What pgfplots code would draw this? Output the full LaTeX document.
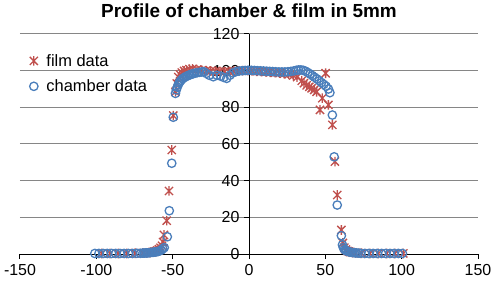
\documentclass[border=0pt]{standalone}
\usepackage{pgfplots}
\pgfplotsset{compat=1.18}
\usepackage{fontspec}
\setmainfont{Liberation Sans}
\definecolor{filmred}{HTML}{C0504D}
\definecolor{chamblue}{HTML}{4A7EBB}
\definecolor{gridgray}{HTML}{868686}
\pgfdeclareplotmark{xstar}{%
  \pgfpathmoveto{\pgfqpoint{0pt}{\pgfplotmarksize}}%
  \pgfpathlineto{\pgfqpoint{0pt}{-\pgfplotmarksize}}%
  \pgfpathmoveto{\pgfqpoint{0.85\pgfplotmarksize}{0.85\pgfplotmarksize}}%
  \pgfpathlineto{\pgfqpoint{-0.85\pgfplotmarksize}{-0.85\pgfplotmarksize}}%
  \pgfpathmoveto{\pgfqpoint{-0.85\pgfplotmarksize}{0.85\pgfplotmarksize}}%
  \pgfpathlineto{\pgfqpoint{0.85\pgfplotmarksize}{-0.85\pgfplotmarksize}}%
  \pgfusepathqstroke}
\pgfplotstableread{
x y
-96.5 0.3
-91 0.3
-85.6 0.3
-80.1 0.3
-74.6 0.4
-69.5 0.5
-67 0.6
-65 0.8
-63.5 1.0
-62 1.3
-61 1.6
-60 2.0
-59 2.6
-58 3.4
-57 4.5
-56.3 6.5
-55.7 10.4
-53.9 18.2
-52.4 34.4
-50.6 56.7
-49.6 75.5
-48.2 88.5
-47.3 93
-46.3 96.5
-45.3 98
-44 99
-42.5 99.8
-41 100.3
-39 100.8
-37 101
-34 100.6
-31 100.2
-28 100
-25 99.8
-22 99.7
-19 99.6
-16 99.5
-13 99.6
-10 99.7
-7 99.9
-4 100
-1 100
2 99.9
5 99.7
8 99.5
11 99.3
14 99.1
17 98.9
20 98.7
23 98.4
26 98
29 97.4
31.5 96.5
34.5 94.5
36 93.2
37.8 92
39.5 91.2
41 90.4
42.7 89.5
44.3 88.5
46.5 78.6
48 85
50.2 98.6
52 81.3
54.6 70.4
56.3 50.4
57.8 32.2
60.5 13.1
61.5 6
62.5 3.5
63.5 2.4
64.5 1.7
65.5 1.3
66.5 1
68 0.8
70 0.6
73.8 0.4
79.2 0.3
84.7 0.3
90.2 0.3
95.6 0.3
101.1 0.3
}\filmdata
\pgfplotstableread{
x y
-101 0.3
-98.3 0.3
-95.5 0.3
-92.8 0.3
-90 0.3
-87.3 0.3
-84.5 0.3
-81.8 0.3
-79 0.3
-76.3 0.3
-73.5 0.4
-71 0.4
-69.5 0.5
-68.5 0.5
-67.5 0.6
-66.5 0.6
-65.5 0.7
-64.5 0.8
-63.5 0.9
-62.5 1.0
-61.5 1.1
-60.5 1.2
-59.5 1.4
-58.5 1.7
-57.5 2.1
-56.5 2.8
-55.5 3.5
-53.5 9.4
-52.2 23.6
-50.6 49.5
-49.6 74.6
-48.2 87.6
-47.6 89.5
-47 91
-46.4 92.3
-45.8 93.3
-45.2 94.1
-44.5 94.8
-43.5 95.6
-42.5 96.2
-41.5 96.7
-40.5 97.1
-39.5 97.5
-38.5 97.8
-37.5 98.1
-36.5 98.4
-35.5 98.6
-34 98.9
-32.5 99.1
-31 99.3
-29.5 99.4
-28 98.5
-26 97.5
-23.4 96.7
-21 97.5
-18.5 97
-16.5 96.3
-14.6 95.8
-12.5 97.5
-10.5 98.8
-8.5 99.5
-6.5 99.8
-4.5 100
-2.5 100.1
-0.5 100.2
1.5 100.2
3.5 100.1
5.5 100
7.5 99.9
9.5 99.8
11.5 99.7
13.5 99.6
15.5 99.5
17.5 99.4
19.5 99.3
21.5 99.3
23.5 99.3
25.5 99.4
27.5 99.6
29.5 99.9
31 100.2
32.5 100.4
34 100.4
35.5 100.2
37 99.7
38.5 99
40 98.2
41.5 97.3
43 96.4
44.5 95.5
46 94.5
47.5 93.5
49 92.5
50.5 91.5
52 90
53 88
54.6 75.8
55.8 53
57.8 26.7
60.5 10
61.2 5
61.8 3.5
62.5 2.5
63.2 2
64 1.6
65 1.3
66 1.1
67 0.9
68 0.8
69 0.7
70 0.6
71.5 0.5
73 0.4
75.8 0.3
78.5 0.3
81.3 0.3
84 0.3
86.8 0.3
89.5 0.3
92.3 0.3
95 0.3
97.8 0.3
100.5 0.3
}\chamberdata
\begin{document}
\begin{tikzpicture}
\useasboundingbox (-20bp,-37bp) rectangle (475bp,254bp);
\begin{axis}[
  at={(0,0)}, anchor=south west,
  scale only axis, width=458bp, height=220bp,
  xmin=-150, xmax=150, ymin=0, ymax=120,
  axis x line=middle, axis y line=middle,
  axis line style={-, black, line width=1bp},
  hide obscured x ticks=false, hide obscured y ticks=false,
  xtick={-150,-100,...,150}, ytick={0,20,...,120},
  ymajorgrids, grid style={gridgray, line width=1bp},
  tick align=outside, major tick length=5bp,
  tick style={black, line width=1bp},
  ticklabel style={font=\fontsize{16}{16}\selectfont},
  xticklabel style={yshift=-2bp},
  yticklabel style={xshift=-1bp},
  /pgf/number format/assume math mode=true,
  title={\textbf{Profile of chamber \& film in 5mm}},
  title style={font=\fontsize{19}{19}\selectfont, at={(0.5,1)}, anchor=base, yshift=11bp},
  legend style={draw=none, fill=none, at={(0.0,0.918)}, anchor=north west,
    font=\fontsize{16.5}{16.5}\selectfont, row sep=8bp, inner xsep=0bp, inner ysep=0bp},
  legend cell align=left,
  legend image code/.code={\path (0bp,0bp) (23bp,0bp); \draw[#1] plot coordinates {(13bp,0bp)};},
]
\addplot[only marks, mark=xstar, mark size=4.8bp, filmred, line width=1.3bp] table {\filmdata};
\addlegendentry{film data}
\addplot[only marks, mark=o, mark size=4.2bp, chamblue, line width=1.3bp] table {\chamberdata};
\addlegendentry{chamber data}
\end{axis}
\end{tikzpicture}
\end{document}
